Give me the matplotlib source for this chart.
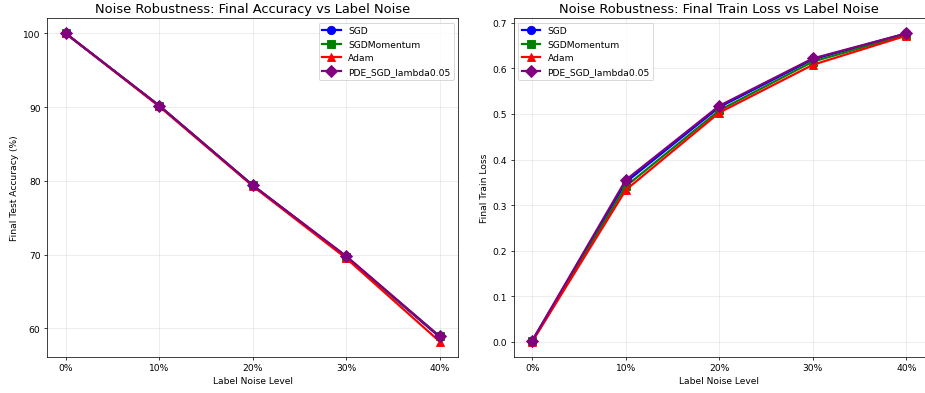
import matplotlib
matplotlib.use("Agg")
import matplotlib.pyplot as plt

noise_labels = ['0%', '10%', '20%', '30%', '40%']
noise_levels = [0.0, 0.1, 0.2, 0.3, 0.4]

optimizers = ['SGD', 'SGDMomentum', 'Adam', 'PDE_SGD_lambda0.05']
colors = ['blue', 'green', 'red', 'purple']
markers = ['o', 's', '^', 'D']

acc_sgd = [100.0, 90.2, 79.4, 69.7, 58.8]
acc_mom = [100.0, 90.2, 79.4, 69.7, 58.9]
acc_adam = [100.0, 90.1, 79.3, 69.5, 58.2]
acc_pde = [100.0, 90.2, 79.4, 69.8, 58.9]

loss_sgd = [0.002, 0.350, 0.515, 0.620, 0.677]
loss_mom = [0.001, 0.341, 0.508, 0.615, 0.674]
loss_adam = [0.000, 0.333, 0.503, 0.608, 0.672]
loss_pde = [0.002, 0.355, 0.518, 0.622, 0.677]

accs = [acc_sgd, acc_mom, acc_adam, acc_pde]
losses = [loss_sgd, loss_mom, loss_adam, loss_pde]

fig, (ax1, ax2) = plt.subplots(1, 2, figsize=(14, 5.963), dpi=925 / 14)

for name, c, m, acc, loss in zip(optimizers, colors, markers, accs, losses):
    ax1.plot(noise_levels, acc, marker=m, color=c, label=name, linewidth=2.4, markersize=9)
    ax2.plot(noise_levels, loss, marker=m, color=c, label=name, linewidth=2.4, markersize=9)

ax1.set_title('Noise Robustness: Final Accuracy vs Label Noise', fontsize=14.2)
ax1.set_xlabel('Label Noise Level')
ax1.set_ylabel('Final Test Accuracy (%)')
ax1.legend(loc='upper right')

ax2.set_title('Noise Robustness: Final Train Loss vs Label Noise', fontsize=14.2)
ax2.set_xlabel('Label Noise Level')
ax2.set_ylabel('Final Train Loss')
ax2.legend(loc='upper left')

for ax in (ax1, ax2):
    ax.set_xticks(noise_levels)
    ax.set_xticklabels(noise_labels)
    ax.grid(True, alpha=0.3)

# cadrage repris de l'image d'origine (recadrée à droite)
fig.subplots_adjust(left=47 / 925, right=925 / 925, top=1 - 19 / 394,
                    bottom=1 - 358 / 394, wspace=0.134)
plt.savefig('out.png')
